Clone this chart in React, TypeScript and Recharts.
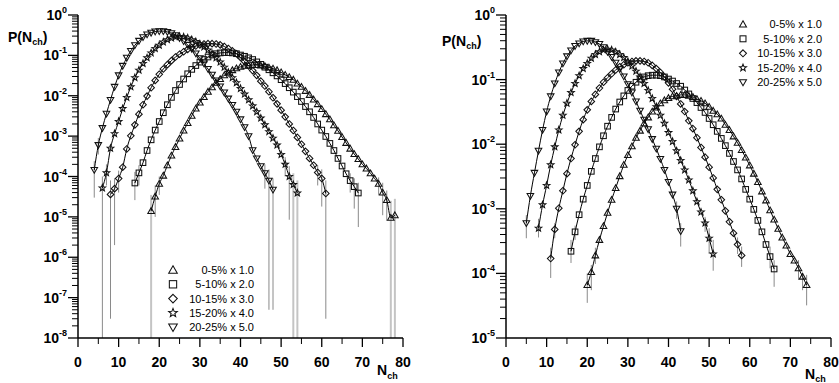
import React from "react";
import { ComposedChart, Scatter, XAxis, YAxis, ErrorBar } from "recharts";

const labels = ["0-5% x 1.0", "5-10% x 2.0", "10-15% x 3.0", "15-20% x 4.0", "20-25% x 5.0"];
const shapes = ["up", "square", "diamond", "star", "down"];

// first N_ch of each series (left panel shows the full range)
const firstN = [18, 14, 8, 6, 4];

const p0to5 = [
  1.4e-5, 3.2e-5, 6.6e-5, 1.05e-4, 1.9e-4, 3.3e-4, 5.4e-4, 8.7e-4, 1.38e-3, 2.1e-3,
  3.2e-3, 4.8e-3, 6.8e-3, 9.3e-3, 1.26e-2, 1.62e-2, 2.1e-2, 2.6e-2, 3.2e-2, 3.7e-2,
  4.3e-2, 4.8e-2, 5.2e-2, 5.5e-2, 5.6e-2, 5.8e-2, 5.8e-2, 5.6e-2, 5.4e-2, 5.0e-2,
  4.7e-2, 4.3e-2, 3.8e-2, 3.3e-2, 2.9e-2, 2.5e-2, 2.0e-2, 1.66e-2, 1.32e-2, 1.05e-2,
  8.1e-3, 6.2e-3, 4.7e-3, 3.5e-3, 2.6e-3, 1.86e-3, 1.35e-3, 9.5e-4, 6.8e-4, 4.9e-4,
  3.6e-4, 2.7e-4, 2.0e-4, 1.58e-4, 1.2e-4, 8.9e-5, 6.6e-5, 4.0e-5, 2.6e-5, 9.5e-6,
  1.1e-5,
];
const p5to10 = [
  6.9e-5, 1.23e-4, 2.2e-4, 4.4e-4, 8.1e-4, 1.41e-3, 2.3e-3, 3.8e-3, 6.0e-3, 9.1e-3,
  1.35e-2, 1.9e-2, 2.6e-2, 3.5e-2, 4.5e-2, 5.6e-2, 6.8e-2, 7.9e-2, 9.1e-2, 0.102,
  0.11, 0.115, 0.117, 0.117, 0.115, 0.11, 0.102, 9.5e-2, 8.7e-2, 7.9e-2,
  6.9e-2, 6.0e-2, 5.1e-2, 4.4e-2, 3.7e-2, 3.1e-2, 2.5e-2, 2.0e-2, 1.58e-2, 1.23e-2,
  9.5e-3, 7.2e-3, 5.4e-3, 4.0e-3, 2.9e-3, 2.0e-3, 1.41e-3, 9.8e-4, 6.6e-4, 4.4e-4,
  2.8e-4, 1.82e-4, 1.17e-4, 7.9e-5, 5.6e-5, 3.9e-5,
];
const p10to15 = [
  3.6e-5, 5.0e-5, 8.9e-5, 1.7e-4, 4.8e-4, 1.02e-3, 1.9e-3, 3.5e-3, 6.0e-3, 9.8e-3,
  1.58e-2, 2.4e-2, 3.4e-2, 4.6e-2, 5.9e-2, 7.4e-2, 9.1e-2, 0.107, 0.123, 0.141,
  0.158, 0.17, 0.182, 0.191, 0.195, 0.195, 0.191, 0.182, 0.166, 0.148,
  0.129, 0.11, 8.9e-2, 7.1e-2, 5.5e-2, 4.2e-2, 3.2e-2, 2.3e-2, 1.74e-2, 1.26e-2,
  8.9e-3, 6.3e-3, 4.4e-3, 3.0e-3, 2.0e-3, 1.38e-3, 9.3e-4, 6.3e-4, 4.2e-4, 2.8e-4,
  1.9e-4, 1.26e-4, 8.9e-5, 3.8e-5,
];
const p15to20 = [
  5.2e-5, 1.23e-4, 5.0e-4, 1.15e-3, 2.3e-3, 4.8e-3, 9.1e-3, 1.66e-2, 2.8e-2, 4.3e-2,
  6.3e-2, 8.7e-2, 0.115, 0.148, 0.178, 0.214, 0.245, 0.269, 0.288, 0.295,
  0.288, 0.269, 0.245, 0.219, 0.191, 0.162, 0.135, 0.11, 8.7e-2, 6.8e-2,
  5.1e-2, 3.8e-2, 2.8e-2, 2.1e-2, 1.51e-2, 1.1e-2, 7.9e-3, 5.6e-3, 4.0e-3, 2.8e-3,
  1.9e-3, 1.29e-3, 8.9e-4, 6.0e-4, 3.5e-4, 2.0e-4, 1.0e-4, 6.3e-5, 3.9e-5,
];
const p20to25 = [
  1.45e-4, 6.0e-4, 1.58e-3, 3.6e-3, 7.9e-3, 1.66e-2, 3.2e-2, 5.5e-2, 8.7e-2, 0.129,
  0.178, 0.229, 0.282, 0.331, 0.363, 0.389, 0.398, 0.398, 0.38, 0.355,
  0.316, 0.269, 0.224, 0.182, 0.145, 0.112, 8.5e-2, 6.3e-2, 4.6e-2, 3.3e-2,
  2.4e-2, 1.7e-2, 1.2e-2, 8.5e-3, 5.9e-3, 4.0e-3, 2.6e-3, 1.66e-3, 1.0e-3, 4.5e-4,
  2.8e-4, 1.8e-4, 1.2e-4, 7.9e-5, 4.7e-5,
];
const allP = [p0to5, p5to10, p10to15, p15to20, p20to25];

// right panel keeps a narrower N window
const rightFrom = [20, 16, 11, 8, 5];
const rightTo = [74, 66, 58, 51, 43];

// error bars: [series, N, low, high]
const leftErr = [
  [0, 19, 1.0e-5, 6.0e-5], [0, 20, 3.5e-5, 1.0e-4], [0, 74, 3.5e-5, 9.5e-5], [0, 75, 1.1e-5, 7.0e-5], [0, 76, 8.0e-6, 4.5e-5],
  [1, 14, 2.6e-5, 1.3e-4], [1, 15, 6.0e-5, 1.9e-4], [1, 67, 4.0e-5, 1.2e-4], [1, 68, 1.6e-5, 9.0e-5], [1, 69, 5.6e-6, 7.0e-5],
  [2, 8, 3.0e-8, 8.0e-5], [2, 9, 2.0e-6, 9.0e-5], [2, 10, 4.0e-5, 1.4e-4], [2, 59, 6.0e-5, 1.9e-4], [2, 60, 1.8e-5, 1.5e-4], [2, 61, 3.0e-8, 8.0e-5],
  [3, 6, 1.0e-8, 1.0e-4], [3, 7, 6.0e-5, 2.0e-4], [3, 51, 1.0e-4, 3.0e-4], [3, 52, 8.5e-6, 1.8e-4],
  [4, 4, 3.0e-5, 2.4e-4], [4, 5, 3.5e-4, 9.0e-4], [4, 46, 5.0e-5, 2.0e-4], [4, 47, 5.0e-8, 1.5e-4], [4, 48, 5.0e-8, 9.0e-5],
];
// the faint ones that run down to the axis floor
const leftErrFar = [
  [0, 18, 1e-8, 3.5e-5], [0, 77, 1e-8, 2.5e-5], [0, 78, 1e-8, 2.8e-5], [3, 53, 1e-8, 1.2e-4], [3, 54, 1e-8, 8.0e-5],
];
const rightErr = [
  [0, 20, 3.5e-5, 1.0e-4], [0, 21, 5.5e-5, 1.35e-4], [0, 22, 1.4e-4, 2.5e-4], [0, 72, 8.0e-5, 1.6e-4], [0, 73, 5.5e-5, 1.0e-4], [0, 74, 3.2e-5, 9.5e-5],
  [1, 16, 1.45e-4, 3.3e-4], [1, 17, 3.3e-4, 5.5e-4], [1, 65, 1.2e-4, 2.6e-4], [1, 66, 6.2e-5, 1.6e-4],
  [2, 11, 8.5e-5, 2.5e-4], [2, 12, 3.5e-4, 6.0e-4], [2, 57, 2.0e-4, 3.6e-4], [2, 58, 1.26e-4, 2.6e-4],
  [3, 8, 3.6e-4, 7.0e-4], [3, 49, 4.4e-4, 7.5e-4], [3, 50, 2.0e-4, 5.0e-4], [3, 51, 1.1e-4, 3.3e-4],
  [4, 5, 3.5e-4, 8.0e-4], [4, 42, 7.0e-4, 1.3e-3], [4, 43, 2.6e-4, 6.0e-4],
];

const xTicks = [0, 5, 10, 15, 20, 25, 30, 35, 40, 45, 50, 55, 60, 65, 70, 75, 80];
const leftDecades = [1e-8, 1e-7, 1e-6, 1e-5, 1e-4, 1e-3, 1e-2, 1e-1, 1];
const rightDecades = [1e-5, 1e-4, 1e-3, 1e-2, 1e-1, 1];

const FONT = "Arial, 'Liberation Sans', sans-serif";

function logTicks(decades) {
  const t = [];
  decades.forEach((d, i) => {
    t.push(d);
    if (i < decades.length - 1) for (let m = 2; m <= 9; m++) t.push(d * m);
  });
  return t;
}

function rows(i, from, to, errs, far) {
  const out = [];
  allP[i].forEach((p, k) => {
    const n = firstN[i] + k;
    if (n < from || n > to) return;
    const row: any = { n, p };
    const e = errs.find((r) => r[0] === i && r[1] === n);
    if (e) row.err = [p - e[2], e[3] - p];
    const f = far.find((r) => r[0] === i && r[1] === n);
    if (f) row.errFar = [p - f[2], f[3] - p];
    out.push(row);
  });
  return out;
}

function Mark({ cx, cy, kind, r = 3.3 }: any) {
  if (cx == null || cy == null) return null;
  const st = { fill: "none", stroke: "#111", strokeWidth: 1.05 };
  if (kind === "square")
    return <rect x={cx - r * 0.85} y={cy - r * 0.85} width={r * 1.7} height={r * 1.7} {...st} />;
  if (kind === "diamond")
    return <polygon points={`${cx},${cy - r} ${cx + r},${cy} ${cx},${cy + r} ${cx - r},${cy}`} {...st} />;
  if (kind === "up")
    return <polygon points={`${cx},${cy - r} ${cx + r},${cy + r * 0.75} ${cx - r},${cy + r * 0.75}`} {...st} />;
  if (kind === "down")
    return <polygon points={`${cx},${cy + r} ${cx + r},${cy - r * 0.75} ${cx - r},${cy - r * 0.75}`} {...st} />;
  const pts = [];
  for (let k = 0; k < 10; k++) {
    const a = -Math.PI / 2 + (k * Math.PI) / 5;
    const rr = k % 2 ? r * 0.45 : r * 1.05;
    pts.push(`${cx + rr * Math.cos(a)},${cy + rr * Math.sin(a)}`);
  }
  return <polygon points={pts.join(" ")} {...st} />;
}

function YTick({ x, y, payload }: any) {
  const lg = Math.log10(payload.value);
  const e = Math.round(lg);
  const major = Math.abs(lg - e) < 1e-6;
  return (
    <g>
      <line x1={x - (major ? 10 : 6)} x2={x} y1={y} y2={y} stroke="#000" strokeWidth={major ? 1.3 : 1} />
      {major && (
        <text x={x - 11} y={y + 5} textAnchor="end" fontFamily={FONT} fontWeight="bold" fontSize={14} fill="#000">
          10
          <tspan dy={-7} fontSize={9}>{e}</tspan>
        </text>
      )}
    </g>
  );
}

function XTick({ x, y, payload }: any) {
  const major = payload.value % 10 === 0;
  return (
    <g>
      <line x1={x} x2={x} y1={y} y2={y + (major ? 9 : 6)} stroke="#000" strokeWidth={major ? 1.3 : 1} />
      {major && (
        <text x={x} y={y + 29} textAnchor="middle" fontFamily={FONT} fontWeight="bold" fontSize={14} fill="#000">
          {payload.value}
        </text>
      )}
    </g>
  );
}

function Panel({ width, margin, decades, range, errs, far }: any) {
  return (
    <ComposedChart width={width} height={383} margin={margin}>
      <XAxis
        type="number"
        dataKey="n"
        domain={[0, 80]}
        ticks={xTicks}
        interval={0}
        height={1}
        tickSize={0}
        tickMargin={0}
        tickLine={false}
        allowDataOverflow
        axisLine={{ stroke: "#000", strokeWidth: 1.5 }}
        tick={(p) => <XTick {...p} />}
      />
      <YAxis
        type="number"
        dataKey="p"
        scale="log"
        domain={[decades[0], 1]}
        ticks={logTicks(decades)}
        interval={0}
        width={1}
        tickSize={0}
        tickMargin={0}
        tickLine={false}
        allowDataOverflow
        axisLine={{ stroke: "#000", strokeWidth: 1.5 }}
        tick={(p) => <YTick {...p} />}
      />
      {allP.map((_, i) => (
        <Scatter
          key={i}
          data={rows(i, range ? range[0][i] : 0, range ? range[1][i] : 999, errs, far)}
          line={{ stroke: "#000", strokeWidth: 1 }}
          lineJointType="monotoneX"
          shape={(p) => <Mark cx={p.cx} cy={p.cy} kind={shapes[i]} />}
          isAnimationActive={false}
        >
          <ErrorBar dataKey="err" direction="y" width={0} stroke="#8a8a8a" strokeWidth={1} />
          <ErrorBar dataKey="errFar" direction="y" width={0} stroke="#c4c4c4" strokeWidth={2} />
        </Scatter>
      ))}
    </ComposedChart>
  );
}

function LegendBlock({ markX, textX, top, step, r }: any) {
  return (
    <g>
      {labels.map((l, i) => (
        <g key={l}>
          <Mark cx={markX} cy={top + i * step} kind={shapes[i]} r={r} />
          <text x={textX} y={top + i * step + 4} textAnchor="end" fontFamily={FONT} fontSize={11} fill="#000">
            {l}
          </text>
        </g>
      ))}
    </g>
  );
}

export default function App() {
  return (
    <div style={{ position: "absolute", left: 0, top: 0, width: 839, height: 383, background: "#fff" }}>
      <div style={{ position: "absolute", left: 0, top: 0 }}>
        <Panel width={420} margin={{ top: 15, left: 77, right: 17, bottom: 44 }} decades={leftDecades} range={null} errs={leftErr} far={leftErrFar} />
      </div>
      <div style={{ position: "absolute", left: 420, top: 0 }}>
        <Panel width={419} margin={{ top: 15, left: 85, right: 8, bottom: 44 }} decades={rightDecades} range={[rightFrom, rightTo]} errs={rightErr} far={[]} />
      </div>
      <svg width={839} height={383} style={{ position: "absolute", left: 0, top: 0, pointerEvents: "none" }}>
        <text x={8} y={42} fontFamily={FONT} fontWeight="bold" fontSize={14}>
          P(N<tspan fontSize={9} dy={3}>ch</tspan><tspan dy={-3}>)</tspan>
        </text>
        <text x={442} y={46} fontFamily={FONT} fontWeight="bold" fontSize={14}>
          P(N<tspan fontSize={9} dy={3}>ch</tspan><tspan dy={-3}>)</tspan>
        </text>
        <text x={377} y={375} fontFamily={FONT} fontWeight="bold" fontSize={14}>
          N<tspan fontSize={9} dy={4}>ch</tspan>
        </text>
        <text x={805} y={379} fontFamily={FONT} fontWeight="bold" fontSize={14}>
          N<tspan fontSize={9} dy={3}>ch</tspan>
        </text>
        <LegendBlock markX={173} textX={254} top={270} step={14.3} r={4.3} />
        <LegendBlock markX={743} textX={822} top={24.3} step={14.5} r={3.5} />
      </svg>
    </div>
  );
}
